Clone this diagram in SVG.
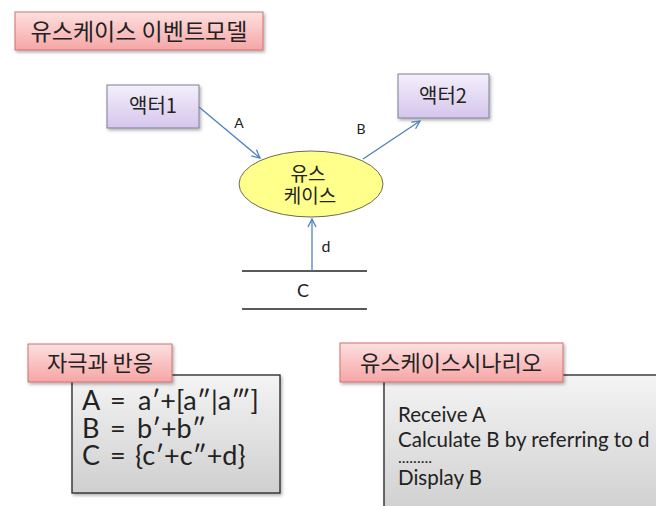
<svg xmlns="http://www.w3.org/2000/svg" width="656" height="506" viewBox="0 0 656 506">
<defs>
<linearGradient id="pink" x1="0" y1="0" x2="0" y2="1">
<stop offset="0" stop-color="#fde0e0"/>
<stop offset="1" stop-color="#f6a5a5"/>
</linearGradient>
<linearGradient id="lav" x1="0" y1="0" x2="0" y2="1">
<stop offset="0" stop-color="#f4effb"/>
<stop offset="1" stop-color="#d5c6ec"/>
</linearGradient>
<linearGradient id="gray" x1="0" y1="0" x2="0" y2="1">
<stop offset="0" stop-color="#f4f4f4"/>
<stop offset="1" stop-color="#cfcfcf"/>
</linearGradient>
<filter id="sh" x="-10%" y="-10%" width="130%" height="140%">
<feDropShadow dx="1.5" dy="2" stdDeviation="1.5" flood-color="#000" flood-opacity="0.3"/>
</filter>
<marker id="arr" viewBox="0 0 10 10" refX="9" refY="5" markerWidth="10" markerHeight="10" markerUnits="userSpaceOnUse" orient="auto">
<polyline points="1,1 9,5 1,9" fill="none" stroke="#4f81bd" stroke-width="1.3"/>
</marker>
</defs>
<style>
.kr{font-family:"Noto Sans CJK KR","Noto Sans",sans-serif;fill:#222}
.en{font-family:Lato,"Liberation Sans",sans-serif;fill:#222}
.lbl{fill:url(#pink);stroke:#d07070;stroke-width:1}
.act{fill:url(#lav);stroke:#7f7f9a;stroke-width:1}
.box{fill:url(#gray);stroke:#222;stroke-width:1.3}
.conn{stroke:#4f81bd;stroke-width:1.3;fill:none}
.ln{stroke:#222;stroke-width:1.3}
</style>

<g id="title">
<rect class="lbl" x="15" y="12" width="248" height="38" filter="url(#sh)"/>
<text class="kr" x="139" y="40" font-size="23" text-anchor="middle">유스케이스 이벤트모델</text>
</g>

<g id="actor1">
<rect class="act" x="107" y="85" width="92" height="43" filter="url(#sh)"/>
<text class="kr" x="153" y="113" font-size="20" text-anchor="middle">액터1</text>
</g>

<g id="actor2">
<rect class="act" x="398" y="74" width="91" height="44" filter="url(#sh)"/>
<text class="kr" x="443" y="103" font-size="20" text-anchor="middle">액터2</text>
</g>

<g id="usecase">
<ellipse cx="311" cy="184" rx="72" ry="33" fill="#ffff8c" stroke="#6a6a5a" stroke-width="1"/>
<text class="kr" x="308" y="181" font-size="19" text-anchor="middle">유스</text>
<text class="kr" x="310" y="203" font-size="19" text-anchor="middle">케이스</text>
</g>

<g id="datastore">
<line class="ln" x1="242" y1="271" x2="367" y2="271"/>
<line class="ln" x1="242" y1="309" x2="367" y2="309"/>
<text class="en" x="303" y="297" font-size="18" text-anchor="middle">C</text>
</g>

<g id="connectors">
<line class="conn" x1="199" y1="107" x2="260" y2="158" marker-end="url(#arr)"/>
<text class="en" x="239" y="128" font-size="14" text-anchor="middle">A</text>
<line class="conn" x1="363" y1="159" x2="420" y2="121" marker-end="url(#arr)"/>
<text class="en" x="361" y="134" font-size="14" text-anchor="middle">B</text>
<line class="conn" x1="312" y1="271" x2="312" y2="219" marker-end="url(#arr)"/>
<text class="en" x="326" y="252" font-size="16" text-anchor="middle">d</text>
</g>

<g id="stimulus">
<rect class="box" x="72" y="375" width="208" height="118" filter="url(#sh)"/>
<text class="en" font-size="27"><tspan x="82" y="410">A</tspan><tspan x="110" y="410">=</tspan><tspan x="138" y="410">a′+[a″|a‴]</tspan></text>
<text class="en" font-size="27"><tspan x="82" y="438">B</tspan><tspan x="110" y="438">=</tspan><tspan x="137" y="438">b′+b″</tspan></text>
<text class="en" font-size="27"><tspan x="82" y="465">C</tspan><tspan x="110" y="465">=</tspan><tspan x="135" y="465">{c′+c″+d}</tspan></text>
<rect class="lbl" x="28" y="344" width="144" height="38" filter="url(#sh)"/>
<text class="kr" x="100" y="371" font-size="22" text-anchor="middle">자극과 반응</text>
</g>

<g id="scenario">
<rect class="box" x="384" y="375" width="280" height="140" filter="url(#sh)"/>
<text class="en" x="398" y="422" font-size="20.5">Receive A</text>
<text class="en" x="398" y="447" font-size="20.5">Calculate B by referring to d</text>
<text class="en" x="398" y="463" font-size="16">.........</text>
<text class="en" x="398" y="485" font-size="20.5">Display B</text>
<rect class="lbl" x="340" y="343" width="223" height="39" filter="url(#sh)"/>
<text class="kr" x="451" y="371" font-size="22" text-anchor="middle">유스케이스시나리오</text>
</g>
</svg>
